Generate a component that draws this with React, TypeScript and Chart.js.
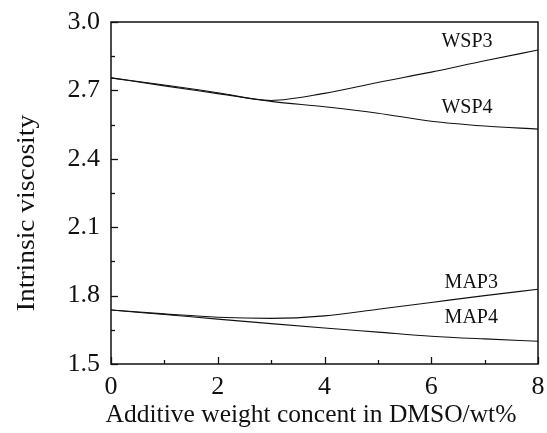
import React, { useEffect, useRef } from "react";
import { Chart, registerables } from "chart.js";

Chart.register(...registerables);

const xValues = [0, 1, 2, 3, 4, 5, 6, 7, 8];
const wsp3 = [2.755, 2.724, 2.69, 2.656, 2.687, 2.735, 2.78, 2.83, 2.877];
const wsp4 = [2.755, 2.72, 2.686, 2.652, 2.628, 2.6, 2.565, 2.544, 2.53];
const map3 = [1.737, 1.72, 1.705, 1.7, 1.711, 1.74, 1.77, 1.8, 1.828];
const map4 = [1.737, 1.717, 1.697, 1.677, 1.658, 1.64, 1.622, 1.61, 1.6];
const xTicks = [0, 2, 4, 6, 8];
const yTicks = [1.5, 1.8, 2.1, 2.4, 2.7, 3.0];
const seriesLabels = [
  { text: "WSP3", x: 6.67, y: 2.912 },
  { text: "WSP4", x: 6.67, y: 2.623 },
  { text: "MAP3", x: 6.75, y: 1.857 },
  { text: "MAP4", x: 6.75, y: 1.702 },
];

const FONT = "'Liberation Serif', 'Times New Roman', serif";

const framePlugin = {
  id: "frameAndText",
  afterDraw(chart: any) {
    const { ctx, chartArea: a, scales } = chart;
    const xs = scales.x;
    const ys = scales.y;
    ctx.save();
    ctx.strokeStyle = "#111";
    ctx.lineWidth = 1.5;
    ctx.strokeRect(a.left, a.top, a.right - a.left, a.bottom - a.top);
    ctx.lineWidth = 1.3;
    for (let v = 0; v <= 8; v += 1) {
      const px = Math.round(xs.getPixelForValue(v)) + 0.5;
      const len = v % 2 === 0 ? 7 : 4;
      ctx.beginPath();
      ctx.moveTo(px, a.bottom);
      ctx.lineTo(px, a.bottom - len);
      ctx.stroke();
    }
    for (let i = 0; i <= 10; i++) {
      const v = 1.5 + i * 0.15;
      const py = Math.round(ys.getPixelForValue(v)) + 0.5;
      const len = i % 2 === 0 ? 7 : 4;
      ctx.beginPath();
      ctx.moveTo(a.left, py);
      ctx.lineTo(a.left + len, py);
      ctx.stroke();
    }
    ctx.fillStyle = "#111";
    ctx.font = `20px ${FONT}`;
    ctx.textAlign = "center";
    ctx.textBaseline = "middle";
    for (const l of seriesLabels) {
      ctx.fillText(l.text, xs.getPixelForValue(l.x), ys.getPixelForValue(l.y));
    }
    ctx.font = `25.5px ${FONT}`;
    ctx.textBaseline = "alphabetic";
    ctx.fillText("Additive weight concent in DMSO/wt%", 311, 422);
    ctx.save();
    ctx.translate(34, 213);
    ctx.rotate(-Math.PI / 2);
    ctx.scale(1.1, 1);
    ctx.font = `25px ${FONT}`;
    ctx.fillText("Intrinsic viscosity", 0, 0);
    ctx.restore();
    ctx.restore();
  },
};

export default function App() {
  const ref = useRef<HTMLCanvasElement | null>(null);
  useEffect(() => {
    if (!ref.current) return;
    const mk = (data: number[]) => ({
      data: xValues.map((x, i) => ({ x, y: data[i] })),
      borderColor: "#111",
      borderWidth: 1.1,
      pointRadius: 0,
      fill: false,
      tension: 0.4,
      cubicInterpolationMode: "monotone" as const,
    });
    const chart = new Chart(ref.current, {
      type: "line",
      data: {
        datasets: [mk(wsp3), mk(wsp4), mk(map3), mk(map4)],
      },
      options: {
        animation: false,
        responsive: false,
        layout: { padding: { left: 0, right: 9, top: 22, bottom: 0 } },
        plugins: { legend: { display: false }, tooltip: { enabled: false } },
        scales: {
          x: {
            type: "linear",
            min: 0,
            max: 8,
            grid: { display: false },
            border: { display: false },
            afterBuildTicks: (s: any) => {
              s.ticks = xTicks.map((v) => ({ value: v }));
            },
            afterFit: (s: any) => {
              s.height = 69;
            },
            ticks: {
              color: "#111",
              font: { family: FONT, size: 26 },
              padding: 0,
              maxRotation: 0,
              callback: (v: any) => String(v),
            },
          },
          y: {
            type: "linear",
            min: 1.5,
            max: 3.0,
            grid: { display: false },
            border: { display: false },
            afterBuildTicks: (s: any) => {
              s.ticks = yTicks.map((v) => ({ value: v }));
            },
            afterFit: (s: any) => {
              s.width = 111;
            },
            ticks: {
              color: "#111",
              font: { family: FONT, size: 26 },
              padding: 3,
              callback: (v: any) => Number(v).toFixed(1),
            },
          },
        },
      },
      plugins: [framePlugin],
    });
    return () => chart.destroy();
  }, []);
  return (
    <div style={{ position: "absolute", left: 0, top: 0, width: 547, height: 433, background: "#fff" }}>
      <canvas ref={ref} width={547} height={433} />
    </div>
  );
}
